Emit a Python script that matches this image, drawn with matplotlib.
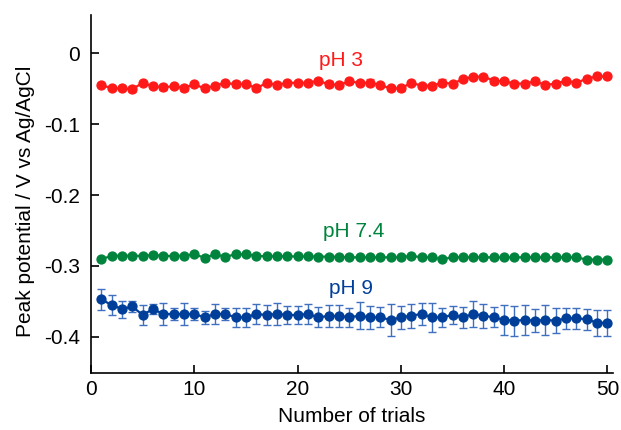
import matplotlib
matplotlib.use("Agg")
import matplotlib.pyplot as plt
from matplotlib.ticker import FixedLocator, FuncFormatter

plt.rcParams['font.family'] = ['Liberation Sans', 'DejaVu Sans']

trials = list(range(1, 51))

# pH 3 (red)
ph3 = [-0.045, -0.0498, -0.0498, -0.051, -0.042, -0.047, -0.048, -0.047, -0.049, -0.044,
       -0.0498, -0.046, -0.042, -0.044, -0.043, -0.0498, -0.042, -0.045, -0.042, -0.042,
       -0.042, -0.039, -0.044, -0.045, -0.040, -0.042, -0.042, -0.045, -0.0498, -0.0498,
       -0.042, -0.046, -0.046, -0.042, -0.043, -0.037, -0.0333, -0.0333, -0.039, -0.040,
       -0.043, -0.043, -0.040, -0.045, -0.043, -0.039, -0.042, -0.036, -0.033, -0.033]
ph3_err = [0.002, 0.002, 0.002, 0.004, 0.002, 0.002, 0.004, 0.002, 0.004, 0.002,
           0.002, 0.002, 0.002, 0.004, 0.002, 0.003, 0.002, 0.002, 0.002, 0.002,
           0.002, 0.002, 0.004, 0.002, 0.003, 0.002, 0.005, 0.002, 0.002, 0.004,
           0.002, 0.002, 0.002, 0.005, 0.002, 0.002, 0.002, 0.002, 0.004, 0.002,
           0.002, 0.002, 0.004, 0.002, 0.002, 0.002, 0.002, 0.002, 0.002, 0.002]

# pH 7.4 (green)
ph74 = [-0.2906, -0.2855, -0.2855, -0.2855, -0.2858, -0.2845, -0.2858, -0.2858, -0.2855, -0.2836,
        -0.2883, -0.2836, -0.287, -0.2836, -0.2836, -0.2858, -0.2862, -0.2862, -0.2865, -0.2865,
        -0.2865, -0.2868, -0.2868, -0.2872, -0.2878, -0.2878, -0.2878, -0.2878, -0.2878, -0.2878,
        -0.2855, -0.2878, -0.2878, -0.2906, -0.2878, -0.2878, -0.2878, -0.2878, -0.2878, -0.2878,
        -0.2878, -0.2878, -0.2878, -0.2878, -0.2878, -0.2878, -0.2878, -0.291, -0.291, -0.291]
ph74_err = [0.001, 0.002, 0.003, 0.003, 0.001, 0.003, 0.001, 0.001, 0.001, 0.001,
            0.001, 0.001, 0.001, 0.001, 0.001, 0.001, 0.001, 0.001, 0.001, 0.001,
            0.001, 0.001, 0.001, 0.001, 0.001, 0.001, 0.001, 0.001, 0.001, 0.001,
            0.001, 0.001, 0.001, 0.001, 0.001, 0.001, 0.001, 0.001, 0.001, 0.001,
            0.001, 0.001, 0.001, 0.001, 0.001, 0.001, 0.001, 0.001, 0.001, 0.001]

# pH 9 (blue)
ph9 = [-0.347, -0.355, -0.3606, -0.357, -0.369, -0.3606, -0.3676, -0.3676, -0.3676, -0.3676,
       -0.3723, -0.3676, -0.3676, -0.3723, -0.3723, -0.3676, -0.369, -0.3676, -0.369, -0.369,
       -0.3676, -0.3723, -0.3704, -0.3704, -0.3723, -0.370, -0.3723, -0.3723, -0.376, -0.3723,
       -0.370, -0.3676, -0.3723, -0.3723, -0.369, -0.3723, -0.3676, -0.370, -0.3723, -0.376,
       -0.377, -0.376, -0.377, -0.376, -0.377, -0.3737, -0.3737, -0.375, -0.380, -0.380]
ph9_err = [0.015, 0.014, 0.012, 0.008, 0.014, 0.007, 0.015, 0.008, 0.015, 0.008,
           0.009, 0.014, 0.008, 0.013, 0.013, 0.014, 0.014, 0.015, 0.012, 0.012,
           0.014, 0.014, 0.015, 0.015, 0.013, 0.019, 0.016, 0.014, 0.022, 0.016,
           0.017, 0.015, 0.020, 0.013, 0.012, 0.015, 0.019, 0.017, 0.014, 0.021,
           0.021, 0.021, 0.016, 0.021, 0.018, 0.015, 0.015, 0.015, 0.018, 0.018]

series = [
    (ph3, ph3_err, '#ff1a1a', '#ff4a4a', 'pH 3', 24.2, -0.010),
    (ph74, ph74_err, '#00843d', '#2a9a5a', 'pH 7.4', 25.4, -0.251),
    (ph9, ph9_err, '#003f99', '#3f6fbf', 'pH 9', 25.2, -0.332),
]

fig = plt.figure(figsize=(6.21, 4.30), dpi=100)
ax = fig.add_axes([0.1465, 0.1326, 0.840, 0.8324])

for vals, errs, col, ecol, label, tx, ty in series:
    ax.errorbar(trials, vals, yerr=errs, color=col, marker='o', markersize=6.4,
                linewidth=1.6, elinewidth=1.0, capsize=3, capthick=1.0,
                ecolor=ecol)
    ax.text(tx, ty, label, color=col, fontsize=15, ha='center', va='center')

ax.set_xlim(0, 50.5)
ax.set_ylim(-0.4507, 0.0535)
ax.xaxis.set_major_locator(FixedLocator([0, 10, 20, 30, 40, 50]))
ax.yaxis.set_major_locator(FixedLocator([0, -0.1, -0.2, -0.3, -0.4]))
ax.yaxis.set_major_formatter(FuncFormatter(lambda v, p: '0' if abs(v) < 1e-9 else ('%.1f' % v)))

for s in ['top', 'right']:
    ax.spines[s].set_visible(False)
for s in ['left', 'bottom']:
    ax.spines[s].set_linewidth(1.2)
ax.tick_params(direction='in', length=6, width=1.2, labelsize=15)
ax.tick_params(axis='y', pad=8)
ax.tick_params(axis='x', pad=5)

ax.set_xlabel('Number of trials', fontsize=15, labelpad=6)
ax.set_ylabel('Peak potential / V vs Ag/AgCl', fontsize=15, labelpad=5)
ax.yaxis.set_label_coords(-0.108, 0.48)

fig.savefig('out.png', dpi=100)
